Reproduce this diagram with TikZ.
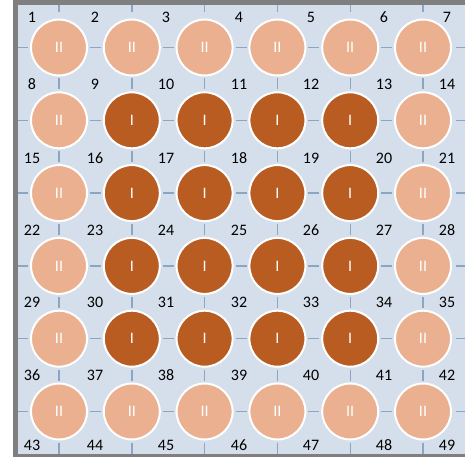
\documentclass[tikz,border=0pt]{standalone}
\usepackage{fontspec}
\setmainfont{Carlito}
\definecolor{framegray}{HTML}{7F7F7F}
\definecolor{bgblue}{HTML}{D5DFEB}
\definecolor{tickblue}{HTML}{8AA6C3}
\definecolor{lightor}{HTML}{EBB08F}
\definecolor{darkor}{HTML}{B85C22}
\tikzset{
  tickline/.style={draw=tickblue, line width=1.4pt},
  cell/.style={circle, draw=white, line width=2pt, minimum size=56pt, inner sep=0pt,
    text=white, font=\fontsize{16}{18}\selectfont},
  outer/.style={cell, fill=lightor},
  inner/.style={cell, fill=darkor},
  num/.style={font=\fontsize{16}{18}\selectfont, text=black, inner sep=0pt}
}
\begin{document}
\begin{tikzpicture}[x=1pt,y=-1pt]
\useasboundingbox (0,0) rectangle (465,457);
\fill[framegray] (13,0) rectangle (465,457);
\fill[bgblue] (18,5) rectangle (465,453.5);
% tick marks
\foreach \i in {0,...,5}{
  \draw[tickline] ({59+72.8*\i},5) -- ({59+72.8*\i},12.5);
  \foreach \k in {1,...,5}{
    \draw[tickline] ({59+72.8*\i},{11.1+72.8*\k-5.5}) -- ({59+72.8*\i},{11.1+72.8*\k+5.5});
  }
  \draw[tickline] ({59+72.8*\i},442.5) -- ({59+72.8*\i},453.5);
  \draw[tickline] (18,{47.5+72.8*\i}) -- (27.5,{47.5+72.8*\i});
  \foreach \k in {1,...,5}{
    \draw[tickline] ({22.6+72.8*\k-5.5},{47.5+72.8*\i}) -- ({22.6+72.8*\k+5.5},{47.5+72.8*\i});
  }
  \draw[tickline] (456,{47.5+72.8*\i}) -- (465,{47.5+72.8*\i});
}
% circles
\foreach \r in {0,...,5}{
  \foreach \c in {0,...,5}{
    \pgfmathtruncatemacro{\isin}{(\r>0)&&(\r<5)&&(\c>0)&&(\c<5)}
    \ifnum\isin=1
      \node[inner] (c\r\c) at ({59+72.8*\c},{47.5+72.8*\r}) {I};
    \else
      \node[outer] (c\r\c) at ({59+72.8*\c},{47.5+72.8*\r}) {II};
    \fi
  }
}
% numbers
\foreach \y [count=\r from 0] in {17,84,158,230,302,375,445}{
  \foreach \x [count=\c from 1] in {32,95,166,239,311,384,447}{
    \pgfmathtruncatemacro{\n}{7*\r+\c}
    \node[num] (n\n) at (\x,\y) {\n};
  }
}
\end{tikzpicture}
\end{document}
